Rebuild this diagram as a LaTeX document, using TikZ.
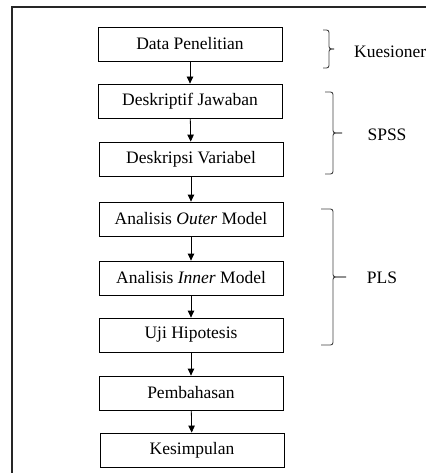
\documentclass[tikz,border=0pt]{standalone}
\usepackage{fontspec}
\setmainfont{Liberation Serif}
\usetikzlibrary{arrows.meta}
\begin{document}
\begin{tikzpicture}[x=1pt,y=-1pt,
  stepbox/.style={draw=black,line width=0.8pt,minimum width=184pt,minimum height=34pt,inner sep=0pt,font=\fontsize{17.5}{20}\selectfont},
  flow/.style={line width=0.8pt,-{Triangle[width=6.5pt,length=7pt]}},
  brc/.style={draw=black!75,line width=0.9pt,rounded corners=2.5pt},
  lbl/.style={font=\fontsize{17.5}{20}\selectfont,inner sep=0pt}]
\useasboundingbox (0,0) rectangle (425,473);
\draw[line width=2pt,black!85] (11.5,480) -- (11.5,7) -- (430,7);
\node[stepbox] (b1) at (190,44) {Data Penelitian};
\node[stepbox] (b2) at (190,101) {Deskriptif Jawaban};
\node[stepbox] (b3) at (191,159) {Deskripsi Variabel};
\node[stepbox] (b4) at (191,219) {Analisis \textit{Outer} Model};
\node[stepbox] (b5) at (191,278) {Analisis \textit{Inner} Model};
\node[stepbox] (b6) at (191,335) {Uji Hipotesis};
\node[stepbox] (b7) at (191,393) {Pembahasan};
\node[stepbox] (b8) at (192,450) {Kesimpulan};
\foreach \a/\b in {b1/b2,b2/b3,b3/b4,b4/b5,b5/b6,b6/b7,b7/b8}
  \draw[flow] (\a) -- (\b);
% braces
\draw[brc] (323,30) -- (329,30) -- (329,49) -- (334,49);
\draw[brc] (323,68) -- (329,68) -- (329,49) -- (334,49);
\draw[brc] (325,92) -- (333,92) -- (333,133) -- (342,133);
\draw[brc] (325,174) -- (333,174) -- (333,133) -- (342,133);
\draw[brc] (321,209) -- (333,209) -- (333,277) -- (346,277);
\draw[brc] (321,345) -- (333,345) -- (333,277) -- (346,277);
\node[lbl,anchor=west] (k) at (354,52) {Kuesioner};
\node[lbl] (s) at (387,135) {SPSS};
\node[lbl] (p) at (382,278) {PLS};
\end{tikzpicture}
\end{document}
